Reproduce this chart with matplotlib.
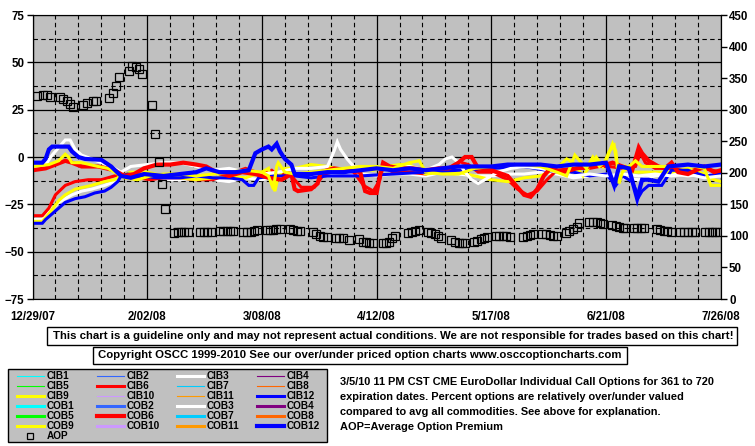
import numpy as np
import matplotlib
matplotlib.use("Agg")
import matplotlib.pyplot as plt
import matplotlib.dates as mdates
from matplotlib.lines import Line2D
from matplotlib.patches import Rectangle
import datetime as dt

plt.rcParams['font.family'] = ['Liberation Sans', 'DejaVu Sans']
plt.rcParams['font.weight'] = 'bold'

# ---- data (x = days since 12/29/07) ----
start_date = dt.date(2007, 12, 29)
major_days = [0, 35, 70, 105, 140, 175, 210]

cib3_days = [0, 3, 5, 8, 12, 15, 18, 22, 25, 27, 30, 35, 40, 45, 50, 55, 60, 65, 70, 75, 80, 85, 90, 95, 100,
             105, 110, 115, 120, 125, 130, 135, 140, 145, 150, 155, 160, 165, 170, 175, 180, 185, 190, 195, 200, 205, 210]
cib3_vals = [-33, -33, -29, -24, -20, -18, -17, -15, -13, -10, -10, -11, -12, -12, -11, -12, -13, -11, -12, -10, -9, -10, -9, -8, -9,
             -10, -9, -9, -10, -8, -9, -10, -10, -9, -9, -8, -9, -11, -10, -9, -11, -12, -10, -9, -10, -9, -10]

cib6_days = [0, 3, 5, 7, 10, 13, 17, 21, 25, 28, 32, 36, 40, 45, 50, 55, 60, 65, 70, 73, 75, 78, 80, 82, 86, 89, 94, 98,
             101, 104, 106, 107, 110, 115, 120, 125, 128, 131, 133, 136, 140, 145, 148, 151, 154, 157, 160, 165, 170, 173,
             176, 180, 184, 185.5, 187, 190, 195, 200, 205, 210]
cib6_vals = [-31, -31, -27, -20, -15, -13, -12, -12, -10, -9, -11, -12, -11, -11, -12, -12, -9, -6, -9, -7, -10, -8, -12, -16, -16, -9, -7, -8,
             -15, -18, -12, -5, -8, -8, -9, -6, -6, -3, -4, -8, -8, -12, -17, -20, -18, -12, -7, -6, -6, -5,
             -5, -6, -5, 2, -3, -6, -6, -7, -6, -8]

cib9_days = [0, 3, 5, 8, 10, 13, 18, 22, 25, 27, 30, 35, 40, 45, 50, 55, 60, 65, 70, 72, 73, 74, 75, 77, 80, 85, 90, 95, 100,
             104, 108, 112, 115, 120, 125, 130, 135, 140, 145, 150, 155, 160, 163, 165, 168, 172, 174, 176, 177.5, 179, 181,
             183, 186, 190, 195, 200, 205, 208, 210]
cib9_vals = [-34, -34, -30, -23, -20, -17, -15, -13, -12, -10, -8, -8, -10, -11, -12, -11, -10, -11, -8, -6, -14, -18, -10, -6, -6, -4, -5, -7, -6,
             -7, -5, -4, -4, -9, -8, -8, -10, -12, -13, -11, -10, -6, -1, -3, -10, 0, -5, 3, 6, -12, -5,
             -8, -8, -8, -8, -6, -9, -12, -13]

cib12_days = [0, 3, 4, 6, 8, 10, 13, 16, 19, 22, 24, 26, 27, 29, 33, 38, 45, 50, 55, 60, 64, 66, 67.5, 69, 74, 80, 85, 90,
              100, 110, 120, 130, 140, 150, 160, 165, 170, 175, 178, 180, 183, 185, 186, 188, 192, 195, 200, 205, 210]
cib12_vals = [-35, -35, -33, -30, -27, -24, -22, -21, -19, -18, -16, -13, -10, -9, -10, -11, -11, -10, -11, -11, -12, -15, -15, -11, -10, -10, -11, -10,
              -10, -9, -8, -7, -6, -5, -8, -8, -10, -9, -15, -10, -13, -21, -18, -15, -15, -7, -7, -10, -9]

cob3_days = [0, 4, 6, 8, 10, 11.5, 13, 15, 18, 21, 24, 27, 30, 35, 40, 45, 50, 55, 60, 65, 70, 75, 80, 85, 90, 92, 93, 94,
             96, 98, 102, 106, 110, 115, 120, 124, 126, 128, 130, 132, 134, 136, 138, 142, 146, 150, 155, 160, 165, 170,
             175, 180, 185, 190, 195, 200, 205, 210]
cob3_vals = [-5, -4, 1, 5, 9, 9, 4, 1, -1, -3, -5, -8, -5, -4, -3, -3, -5, -7, -6, -8, -9, -8, -6, -6, -5, 3, 8, 4,
             -1, -5, -6, -6, -6, -5, -7, -4, -1, 0, -3, -8, -12, -14, -12, -8, -6, -5, -6, -8, -10, -9,
             -10, -9, -10, -9, -10, -9, -11, -10]

cob6_days = [0, 4, 7, 10, 12, 15, 20, 25, 28, 31, 34, 38, 42, 46, 50, 53, 56, 60, 64, 68, 72, 76, 79, 80, 81, 85, 87, 88,
             92, 96, 100, 101.5, 103, 105, 106, 107, 109, 112, 116, 120, 124, 127, 130, 132, 134, 136, 140, 145, 148, 150,
             152, 154, 156, 158, 162, 166, 170, 175, 177, 180, 183, 185, 186, 188, 191, 193, 195, 197, 200, 205, 208, 210]
cob6_vals = [-7, -6, -4, -2, -3, -5, -5, -7, -10, -9, -6, -4, -4, -3, -4, -5, -8, -10, -8, -9, -11, -12, -9, -17, -18, -17, -14, -8,
             -6, -7, -8, -18, -19, -19, -10, -3, -5, -6, -6, -7, -6, -6, -3, 0, 0, -6, -7, -10, -16, -20,
             -21, -17, -10, -6, -8, -6, -5, -4, -3, -5, -7, 5, 2, -2, -5, -6, -3, -8, -9, -5, -8, -7]

cob9_days = [0, 5, 8, 10, 11, 12, 15, 20, 23, 26, 28, 32, 36, 40, 45, 50, 55, 60, 65, 70, 72, 73.5, 74.5, 75, 77, 80, 85,
             90, 95, 100, 105, 110, 115, 118, 120, 125, 130, 135, 140, 145, 150, 155, 160, 163, 165.5, 167, 169, 171,
             173, 175, 177, 178, 179, 180, 184, 186, 190, 195, 200, 205, 207, 210]
cob9_vals = [-5, -4, -2, 1.5, 0, -3, -3, -5, -6, -9, -11, -12, -10, -9, -9, -10, -9, -8, -7, -8, -10, -17, -5, -3, -8, -9, -8,
             -7, -6, -5, -5, -6, -3, -2, -8, -9, -9, -6, -5, -4, -4, -5, -8, -10, 1, -2, -6, 0,
             -5, -2, 7, 3, -14, -8, -2, -5, -5, -5, -4, -6, -15, -15]

cob12_days = [0, 3, 4, 5, 6, 11, 12, 14, 16, 21, 24, 27, 30, 34, 40, 45, 50, 53, 57, 62, 66, 68, 70, 72, 73, 74.5, 75.5, 77,
              79, 80, 85, 90, 95, 100, 105, 110, 115, 120, 125, 130, 135, 140, 145, 150, 155, 160, 165, 170, 175, 177.5,
              179, 182, 184.5, 186, 188, 191, 194, 200, 205, 210]
cob12_vals = [-3, -3, -1, 4, 5.5, 5.5, 3, 0, -1, -1.5, -5, -10, -11, -9, -10, -9, -8, -6, -8, -8, -7, 2, 4, 5.5, 4, 7, 3, -1,
              -4, -9, -9, -8, -8, -7, -6, -7, -6, -7, -6, -5, -5, -5, -4, -4, -4, -5, -4, -4, -3, -15,
              -5, -6, -22, -12, -12, -13, -5, -4, -5, -4]

aop_days = [1.3, 3.3, 4.5, 5.3, 8.4, 9.2, 10.4, 11.4, 12.3, 15.3, 16.5, 18.4, 19.4, 23.2, 24.5, 25.5, 26.3, 29.4, 30.3,
            31.6, 32.4, 33.3, 36.4, 37.3, 38.5, 39.5, 40.3, 43.3, 44.3, 45.3, 46.3, 47.4, 51.1, 52.3, 53.3, 54.4,
            57.2, 58.2, 59.3, 60.3, 61.3, 64.3, 65.5, 66.6, 67.6, 68.6, 71.5, 72.5, 73.5, 74.3, 75.5, 78.6, 79.6,
            80.6, 81.6, 85.5, 86.5, 87.7, 88.7, 89.8, 92.6, 93.6, 94.8, 96.5, 99.5, 100.8, 101.8, 102.8, 103.8,
            106.9, 107.9, 108.7, 109.7, 110.5, 114.6, 115.8, 116.8, 117.8, 120.7, 121.7, 122.7, 123.7, 124.7,
            127.6, 128.8, 130, 131, 132, 134.7, 135.7, 136.8, 137.8, 138.8, 141.4, 142.5, 143.5, 144.5, 145.7,
            149.6, 150.8, 151.8, 152.8, 155.5, 156.7, 157.9, 158.9, 160, 162.8, 163.8, 165, 166.1, 166.9,
            169.7, 170.9, 172.2, 173.2, 174, 176.8, 177.9, 179.1, 180.1, 180.9, 183.5, 184.5, 185.6, 186.6,
            190.5, 191.5, 192.7, 193.7, 194.8, 197.6, 198.8, 200, 201.2, 202.3, 205.3, 206.3, 207.4, 208.4, 209.4]
aop_vals = [322, 323, 323, 320, 320, 317, 314, 309, 304, 307, 310, 313, 314, 319, 326, 337, 352, 362, 369,
            368, 365, 357, 308, 262, 217, 182, 143, 105, 106.5, 106.5, 106.5, 106.5, 106.7, 106.7, 106.7, 106.7,
            107.7, 107.7, 107.7, 107.7, 107.7, 106.5, 106.5, 105.6, 107.7, 109.8, 109, 109, 109, 111, 111, 111, 109,
            108, 108, 106.5, 102.8, 99.8, 98.8, 98.8, 97.2, 97.2, 96, 93.6, 94.5, 90.9, 89.8, 89.2, 89.2,
            88.2, 88.2, 90.9, 96, 100.2, 104, 106.5, 107.7, 109.8, 106.5, 104, 102.7, 100.2, 97.2,
            93.6, 90.9, 89.2, 88.2, 88.2, 89.8, 91.9, 95, 97.2, 98.8, 100.2, 100.2, 100.2, 100.2, 98.8,
            98.8, 100.2, 101.2, 102.7, 102.7, 102.7, 101.2, 100.2, 100.2, 104, 107.7, 111, 114, 120,
            122.5, 122.5, 122, 120, 119.5, 117.3, 115.7, 114, 113, 113, 112, 112, 112, 112,
            111, 109.6, 108, 108, 106.5, 106.5, 106.5, 106.5, 106.5, 106.5, 106.5, 106.5, 105.5, 105.5, 105.5]

series_names = ['CIB1', 'CIB2', 'CIB3', 'CIB4', 'CIB5', 'CIB6', 'CIB7', 'CIB8', 'CIB9', 'CIB10', 'CIB11', 'CIB12',
                'COB1', 'COB2', 'COB3', 'COB4', 'COB5', 'COB6', 'COB7', 'COB8', 'COB9', 'COB10', 'COB11', 'COB12']
base_colors = ['#00FFFF', '#3366FF', '#FFFFFF', '#800080', '#00FF00', '#FF0000',
               '#00CCFF', '#FF6600', '#FFFF00', '#CC99FF', '#FF9900', '#0000FF']
series_colors = base_colors + base_colors
series_widths = [0.8, 0.8, 2.2, 0.8, 0.8, 2.2, 0.8, 0.8, 2.2, 0.8, 0.8, 2.2,
                 2.2, 2.2, 2.2, 2.2, 2.2, 3.0, 2.2, 2.2, 2.2, 2.2, 2.2, 3.0]
series_data = {
    'CIB3': (cib3_days, cib3_vals), 'CIB6': (cib6_days, cib6_vals),
    'CIB9': (cib9_days, cib9_vals), 'CIB12': (cib12_days, cib12_vals),
    'COB3': (cob3_days, cob3_vals), 'COB6': (cob6_days, cob6_vals),
    'COB9': (cob9_days, cob9_vals), 'COB12': (cob12_days, cob12_vals),
}

disclaimer = "This chart is a guideline only and may not represent actual conditions. We are not responsible for trades based on this chart!"
copyright_txt = "Copyright OSCC 1999-2010 See our over/under priced option charts www.osccoptioncharts.com"
notes = ["3/5/10 11 PM CST CME EuroDollar Individual Call Options for 361 to 720",
         "expiration dates. Percent options are relatively over/under valued",
         "compared to avg all commodities. See above for explanation.",
         "AOP=Average Option Premium"]

# ---- figure ----
W, H = 755, 446
fig = plt.figure(figsize=(W / 100, H / 100), dpi=100)
fig.patch.set_facecolor('white')


def fx(px):
    return px / W


def fy(py):
    return 1 - py / H


ax = fig.add_axes([fx(32.5), fy(299), fx(720.7) - fx(32.5), fy(15) - fy(299)])
ax.set_facecolor('#C0C0C0')
base_num = mdates.date2num(start_date)


def to_x(days):
    return base_num + np.asarray(days, dtype=float)


for name, col, lw in zip(series_names, series_colors, series_widths):
    if name in series_data:
        d, v = series_data[name]
        ax.plot(to_x(d), v, color=col, lw=lw, zorder=3, solid_joinstyle='miter')

ax.set_xlim(base_num, base_num + 210)
ax.set_ylim(-75, 75)
ax.set_yticks(np.arange(-75, 76, 25))
ax.set_yticks(np.arange(-62.5, 75, 25), minor=True)
ax.set_xticks(to_x(major_days))
ax.set_xticks(to_x(np.arange(0, 211, 7)), minor=True)
ax.set_xticklabels([f"{d.month}/{d.day:02d}/{d.year % 100:02d}" for d in
                    [start_date + dt.timedelta(days=int(k)) for k in major_days]])
ax.grid(which='major', color='black', lw=0.9, ls='-', zorder=1)
ax.grid(which='minor', color='black', lw=0.8, ls=(0, (4, 3)), zorder=1)
ax.set_axisbelow(True)
ax.tick_params(axis='x', which='both', length=0, pad=9, labelsize=8.3)
ax.tick_params(axis='y', which='major', length=4, direction='out', width=1, labelsize=8.3, pad=2)
ax.tick_params(axis='y', which='minor', length=0)
for s in ['top', 'bottom']:
    ax.spines[s].set_color('#808080')
ax.spines['left'].set_color('black')
ax.spines['right'].set_color('black')

ax2 = ax.twinx()
ax2.set_ylim(0, 450)
ax2.set_yticks(np.arange(0, 451, 50))
ax2.tick_params(axis='y', length=4, direction='out', width=1, labelsize=8.3, pad=2)
ax2.plot(to_x(aop_days), aop_vals, ls='none', marker='s', ms=5.2, mfc='none', mec='black', mew=0.9, zorder=4)
for lab in ax.get_xticklabels() + ax.get_yticklabels() + ax2.get_yticklabels():
    lab.set_fontweight('bold')

# ---- disclaimer boxes ----
fig.patches.append(Rectangle((fx(47.3), fy(345.3)), fx(737.3) - fx(47.3), fy(327.3) - fy(345.3),
                             transform=fig.transFigure, fill=False, ec='black', lw=1))
fig.text(fx(393), fy(336.3), disclaimer, ha='center', va='center', fontsize=8.2, fontweight='bold')
fig.patches.append(Rectangle((fx(93.3), fy(364)), fx(626.7) - fx(93.3), fy(346.7) - fy(364),
                             transform=fig.transFigure, fill=False, ec='black', lw=1))
fig.text(fx(360), fy(355.3), copyright_txt, ha='center', va='center', fontsize=8.2, fontweight='bold')

# ---- legend ----
fig.patches.append(Rectangle((fx(8.3), fy(441.7)), fx(326.7) - fx(8.3), fy(369) - fy(441.7),
                             transform=fig.transFigure, fc='#C0C0C0', ec='black', lw=1))
col_x = [16.7, 96.7, 176.7, 256.7]
row_y = [375.7 + 10 * i for i in range(7)]
for i, (name, col, lw) in enumerate(zip(series_names, series_colors, series_widths)):
    r, c = divmod(i, 4)
    x0 = col_x[c]
    fig.add_artist(Line2D([fx(x0), fx(x0 + 27.3)], [fy(row_y[r])] * 2, color=col, lw=lw,
                          transform=fig.transFigure))
    fig.text(fx(x0 + 30), fy(row_y[r]), name, ha='left', va='center', fontsize=7.2, fontweight='bold')
fig.add_artist(Line2D([fx(30)], [fy(row_y[6])], marker='s', ms=5, mfc='none', mec='black', mew=0.9,
                      transform=fig.transFigure))
fig.text(fx(46.7), fy(row_y[6]), 'AOP', ha='left', va='center', fontsize=7.2, fontweight='bold')

for i, line in enumerate(notes):
    fig.text(fx(340), fy(381.7 + 15.2 * i), line, ha='left', va='center', fontsize=7.9, fontweight='bold')

fig.savefig('out.png', dpi=100)
